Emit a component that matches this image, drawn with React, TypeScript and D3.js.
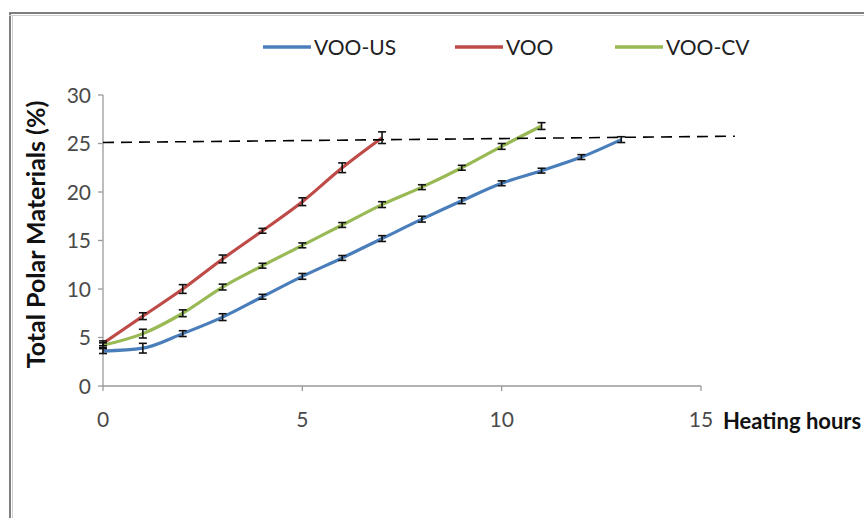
import React from "react";
import * as d3 from "d3";

const hoursUS = [0, 1, 2, 3, 4, 5, 6, 7, 8, 9, 10, 11, 12, 13];
const valuesUS = [3.6, 3.9, 5.4, 7.1, 9.2, 11.3, 13.2, 15.2, 17.2, 19.1, 20.9, 22.2, 23.6, 25.4];
const errUS = [0.25, 0.5, 0.3, 0.35, 0.25, 0.3, 0.25, 0.3, 0.3, 0.3, 0.25, 0.25, 0.25, 0.3];

const hoursVOO = [0, 1, 2, 3, 4, 5, 6, 7];
const valuesVOO = [4.4, 7.2, 10.0, 13.1, 16.0, 19.0, 22.5, 25.6];
const errVOO = [0.25, 0.35, 0.45, 0.4, 0.25, 0.4, 0.5, 0.6];

const hoursCV = [0, 1, 2, 3, 4, 5, 6, 7, 8, 9, 10, 11];
const valuesCV = [4.2, 5.4, 7.5, 10.2, 12.4, 14.5, 16.6, 18.7, 20.5, 22.5, 24.7, 26.8];
const errCV = [0.25, 0.45, 0.35, 0.3, 0.25, 0.25, 0.25, 0.3, 0.25, 0.25, 0.3, 0.35];

const seriesNames = ["VOO-US", "VOO", "VOO-CV"];
const seriesColors = ["#4A7EBB", "#BE4B48", "#98B954"];

const limitX = [0, 15.85];
const limitY = [25.1, 25.75];

const xTicks = [0, 5, 10, 15];
const yTicks = [0, 5, 10, 15, 20, 25, 30];

const W = 864;
const H = 518;

export default function App() {
  const x = d3.scaleLinear().domain([0, 15]).range([103, 701]);
  const y = d3.scaleLinear().domain([0, 30]).range([386, 95]);

  const series = [
    { name: seriesNames[0], xs: hoursUS, ys: valuesUS, es: errUS, color: seriesColors[0] },
    { name: seriesNames[1], xs: hoursVOO, ys: valuesVOO, es: errVOO, color: seriesColors[1] },
    { name: seriesNames[2], xs: hoursCV, ys: valuesCV, es: errCV, color: seriesColors[2] },
  ];

  const line = d3
    .line<[number, number]>()
    .x((d) => x(d[0]))
    .y((d) => y(d[1]))
    .curve(d3.curveMonotoneX);

  const font = "Lato, 'Open Sans', sans-serif";
  const legendX = [263, 455, 615];

  return (
    <svg
      width={W}
      height={H}
      style={{ position: "absolute", left: 0, top: 0, background: "#fff" }}
    >
      <rect x={0} y={0} width={W} height={H} fill="#fff" />
      {/* frame */}
      <line x1={9} y1={13} x2={W} y2={13} stroke="#7f7f7f" strokeWidth={2} />
      <line x1={10} y1={13} x2={10} y2={H} stroke="#7f7f7f" strokeWidth={2} />
      <line x1={9} y1={15.5} x2={W} y2={15.5} stroke="#d0d0d0" strokeWidth={1} />
      <line x1={12.5} y1={15} x2={12.5} y2={H} stroke="#d0d0d0" strokeWidth={1} />

      {/* axes */}
      <line x1={x(0)} y1={y(30)} x2={x(0)} y2={y(0)} stroke="#9a9a9a" strokeWidth={1.3} />
      <line x1={x(0)} y1={y(0)} x2={x(15)} y2={y(0)} stroke="#9a9a9a" strokeWidth={1.3} />
      {yTicks.map((t) => (
        <g key={"y" + t}>
          <line x1={x(0) - 5} x2={x(0)} y1={y(t)} y2={y(t)} stroke="#9a9a9a" strokeWidth={1.3} />
          <text
            x={x(0) - 12}
            y={y(t)}
            dy="0.36em"
            textAnchor="end"
            fontFamily={font}
            fontSize={21}
            fill="#4a4a4a"
          >
            {t}
          </text>
        </g>
      ))}
      {xTicks.map((t) => (
        <g key={"x" + t}>
          <line x1={x(t)} x2={x(t)} y1={y(0)} y2={y(0) + 5} stroke="#9a9a9a" strokeWidth={1.3} />
          <text
            x={x(t)}
            y={y(0) + 41}
            textAnchor="middle"
            fontFamily={font}
            fontSize={21}
            fill="#4a4a4a"
          >
            {t}
          </text>
        </g>
      ))}
      <text
        x={723}
        y={y(0) + 43}
        fontFamily={font}
        fontSize={22}
        fontWeight="bold"
        fill="#111"
      >
        Heating hours
      </text>
      <text
        transform={`translate(45, ${(y(0) + y(30)) / 2 - 6}) rotate(-90)`}
        textAnchor="middle"
        fontFamily={font}
        fontSize={25}
        fontWeight="bold"
        fill="#111"
      >
        Total Polar Materials (%)
      </text>

      {/* series */}
      {series.map((s) => (
        <path
          key={s.name}
          d={line(s.xs.map((v, i) => [v, s.ys[i]] as [number, number])) || ""}
          fill="none"
          stroke={s.color}
          strokeWidth={3.2}
          strokeLinejoin="round"
        />
      ))}
      {series.map((s) =>
        s.xs.map((v, i) => (
          <g key={s.name + i} stroke="#111" strokeWidth={1.6}>
            <line x1={x(v)} x2={x(v)} y1={y(s.ys[i] - s.es[i])} y2={y(s.ys[i] + s.es[i])} />
            <line x1={x(v) - 4} x2={x(v) + 4} y1={y(s.ys[i] - s.es[i])} y2={y(s.ys[i] - s.es[i])} />
            <line x1={x(v) - 4} x2={x(v) + 4} y1={y(s.ys[i] + s.es[i])} y2={y(s.ys[i] + s.es[i])} />
          </g>
        ))
      )}

      {/* limit dashed line */}
      <line
        x1={x(limitX[0])}
        y1={y(limitY[0])}
        x2={x(limitX[1])}
        y2={y(limitY[1])}
        stroke="#000"
        strokeWidth={1.6}
        strokeDasharray="11,7"
      />

      {/* legend */}
      {series.map((s, i) => (
        <g key={"lg" + s.name}>
          <line
            x1={legendX[i]}
            x2={legendX[i] + 48}
            y1={47}
            y2={47}
            stroke={s.color}
            strokeWidth={3.5}
          />
          <text
            x={legendX[i] + 51}
            y={47}
            dy="0.36em"
            fontFamily={font}
            fontSize={21}
            fill="#222"
          >
            {s.name}
          </text>
        </g>
      ))}
    </svg>
  );
}
